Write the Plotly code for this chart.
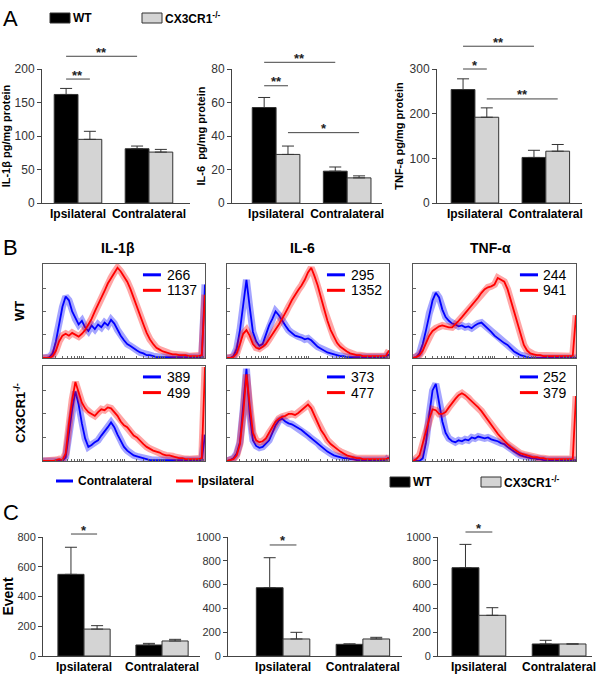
import plotly.graph_objects as go

FONT = 'Arial, "Liberation Sans", sans-serif'
WT_COLOR = '#000000'
KO_COLOR = '#d4d4d4'
EDGE = '#333333'
BLUE = '#0000ff'
RED = '#ff0000'
W, H = 600, 675

SIDES = ['Ipsilateral', 'Contralateral']
GROUPS = ['WT', 'CX3CR1<sup>-/-</sup>']

# A: cytokine content (pg/mg protein), order = [Ipsilateral, Contralateral]
il1b_wt, il1b_wt_sem = [162, 81], [9, 4]
il1b_ko, il1b_ko_sem = [95, 76], [12, 4]
il6_wt, il6_wt_sem = [57, 19], [6, 2.5]
il6_ko, il6_ko_sem = [29, 15], [5, 1.2]
tnf_wt, tnf_wt_sem = [254, 102], [24, 16]
tnf_ko, tnf_ko_sem = [192, 116], [21, 15]

# C: positive events
ev_il1b_wt, ev_il1b_wt_sem = [549, 74], [182, 11]
ev_il1b_ko, ev_il1b_ko_sem = [181, 101], [23, 11]
ev_il6_wt, ev_il6_wt_sem = [574, 98], [252, 4]
ev_il6_ko, ev_il6_ko_sem = [143, 143], [56, 14]
ev_tnf_wt, ev_tnf_wt_sem = [742, 101], [196, 31]
ev_tnf_ko, ev_tnf_ko_sem = [342, 101], [64, 0]

# significance: (bar a, bar b, level, label); bars 0=WT ipsi 1=KO ipsi 2=WT contra 3=KO contra
sig_il1b = [(0, 1, 185, '**'), (0, 2, 219, '**')]
sig_il6 = [(0, 1, 70, '**'), (0, 2, 84, '**'), (1, 3, 42, '*')]
sig_tnf = [(0, 1, 300, '*'), (0, 2, 351, '**'), (1, 3, 233, '**')]
sig_ev_il1b = [(0, 1, 820, '*')]
sig_ev_il6 = [(0, 1, 933, '*')]
sig_ev_tnf = [(0, 1, 1042, '*')]

# B: flow histograms (% of max), channel 0-1000
chan = [0, 20, 40, 60, 80, 100, 120, 140, 160, 180, 200, 220, 240, 260, 280, 300, 320, 340,
        360, 380, 400, 420, 440, 460, 480, 500, 520, 540, 560, 580, 600, 620, 640, 660, 680,
        700, 720, 740, 760, 780, 800, 820, 840, 860, 880, 900, 920, 940, 960, 980, 1000]
h_il1b_wt_contra = [0, 0, 1, 5, 18, 38, 55, 66, 62, 50, 42, 36, 40, 33, 29, 35, 31, 36, 33, 38,
                    35, 41, 37, 30, 24, 19, 15, 13, 10, 8, 6, 5, 3, 3, 2, 1, 1, 1, 1, 1,
                    1, 1, 1, 1, 1, 1, 1, 1, 1, 1, 79]
h_il1b_wt_ipsi = [0, 0, 0, 2, 8, 18, 24, 26, 24, 27, 25, 23, 26, 30, 36, 42, 50, 57, 65, 72,
                  80, 86, 92, 97, 93, 88, 82, 74, 64, 55, 45, 36, 27, 20, 15, 11, 9, 7, 6, 5,
                  4, 4, 3, 3, 3, 2, 2, 2, 2, 3, 68]
h_il6_wt_contra = [0, 0, 2, 10, 30, 60, 84, 55, 28, 18, 13, 15, 25, 35, 42, 50, 46, 40, 35, 30,
                   27, 24, 23, 22, 20, 21, 19, 15, 12, 10, 8, 6, 5, 4, 3, 2, 2, 1, 1, 1,
                   1, 1, 1, 1, 1, 1, 1, 1, 1, 1, 4]
h_il6_wt_ipsi = [0, 0, 1, 5, 15, 26, 30, 24, 15, 11, 10, 12, 15, 20, 25, 30, 36, 42, 48, 55,
                 62, 68, 73, 78, 84, 92, 97, 88, 78, 65, 52, 40, 30, 22, 16, 12, 9, 7, 5, 4,
                 3, 3, 2, 2, 2, 2, 2, 2, 2, 2, 8]
h_tnf_wt_contra = [0, 1, 5, 15, 30, 48, 62, 70, 65, 52, 44, 40, 37, 36, 34, 35, 33, 34, 32, 35,
                   37, 38, 35, 32, 28, 24, 21, 18, 16, 14, 10, 7, 5, 3, 2, 1, 0, 0, 0, 0,
                   0, 0, 0, 0, 0, 0, 0, 0, 0, 0, 0]
h_tnf_wt_ipsi = [0, 1, 3, 8, 16, 24, 29, 32, 34, 35, 34, 33, 33, 36, 40, 44, 48, 53, 57, 61,
                 65, 70, 74, 76, 77, 79, 86, 84, 82, 74, 62, 50, 38, 25, 14, 8, 5, 4, 3, 3,
                 2, 2, 2, 2, 2, 2, 2, 2, 2, 2, 46]
h_il1b_ko_contra = [0, 0, 0, 0, 0, 0, 0, 4, 30, 55, 74, 60, 40, 24, 15, 17, 20, 22, 27, 31,
                    36, 41, 36, 28, 21, 15, 11, 8, 6, 5, 4, 3, 2, 1, 1, 1, 1, 1, 1, 1,
                    1, 1, 1, 1, 1, 1, 1, 1, 1, 1, 28]
h_il1b_ko_ipsi = [0, 0, 0, 0, 1, 2, 1, 8, 40, 65, 84, 72, 62, 56, 52, 50, 48, 52, 55, 54,
                  57, 56, 52, 48, 42, 38, 36, 31, 27, 25, 21, 18, 15, 13, 11, 10, 9, 7, 6, 6,
                  5, 4, 3, 3, 2, 2, 2, 2, 2, 3, 100]
h_il6_ko_contra = [0, 1, 3, 8, 20, 55, 98, 50, 22, 16, 14, 15, 18, 22, 30, 38, 43, 45, 42, 40,
                   39, 37, 35, 33, 30, 27, 24, 22, 19, 15, 12, 10, 8, 6, 5, 4, 3, 3, 2, 2,
                   1, 1, 1, 1, 1, 1, 1, 1, 1, 1, 4]
h_il6_ko_ipsi = [0, 1, 2, 6, 18, 50, 92, 60, 30, 22, 20, 21, 24, 30, 36, 42, 45, 47, 48, 50,
                 50, 49, 51, 54, 57, 60, 56, 48, 40, 33, 28, 22, 18, 15, 12, 10, 8, 6, 5, 4,
                 3, 3, 2, 2, 2, 2, 2, 2, 2, 2, 3]
h_tnf_ko_contra = [0, 0, 0, 3, 20, 50, 75, 82, 62, 42, 30, 24, 21, 20, 22, 21, 23, 22, 25, 24,
                   26, 25, 24, 25, 23, 22, 21, 19, 18, 15, 12, 10, 8, 6, 5, 4, 3, 3, 2, 2,
                   1, 1, 1, 1, 1, 1, 1, 1, 1, 1, 1]
h_tnf_ko_ipsi = [0, 2, 6, 18, 32, 45, 55, 54, 50, 50, 52, 57, 62, 66, 70, 72, 70, 67, 63, 60,
                 57, 53, 48, 43, 38, 33, 29, 25, 21, 18, 15, 12, 10, 8, 7, 6, 5, 4, 4, 3,
                 3, 2, 2, 2, 2, 2, 2, 2, 2, 2, 69]
mfi_contra = [266, 295, 244, 389, 373, 252]
mfi_ipsi = [1137, 1352, 941, 499, 477, 379]
hist_titles = ['IL-1β', 'IL-6', 'TNF-α']

BARGAP = 0.33
OFF = (1 - BARGAP) / 4
BAR_X = [-OFF, OFF, 1 - OFF, 1 + OFF]


def dx(a, b):
    return [a / W, b / W]


def dy(top, bottom):
    return [1 - bottom / H, 1 - top / H]


def ids(i):
    return ('x', 'y', 'xaxis', 'yaxis') if i == 1 else (f'x{i}', f'y{i}', f'xaxis{i}', f'yaxis{i}')


def to_paper(dom, rng, v):
    return dom[0] + (v - rng[0]) / (rng[1] - rng[0]) * (dom[1] - dom[0])


def note(x, y, text, size, xanchor='center', **kw):
    annos.append(dict(xref='paper', yref='paper', x=x / W, y=1 - y / H, text=text,
                      xanchor=xanchor, yanchor='middle', showarrow=False,
                      font=dict(size=size, color='black'), **kw))


fig = go.Figure()
shapes, annos = [], []


def bar_panel(i, xdom, ydom, xr, yr, dtick, wt, wt_sem, ko, ko_sem, ytitle, sig,
              tick_size=12, title_size=11, standoff=3):
    xa, ya, xk, yk = ids(i)
    for vals, sem, color in ((wt, wt_sem, WT_COLOR), (ko, ko_sem, KO_COLOR)):
        fig.add_trace(go.Bar(x=[0, 1], y=vals, xaxis=xa, yaxis=ya,
                             marker=dict(color=color, line=dict(color=EDGE, width=1)),
                             error_y=dict(type='data', symmetric=False, array=sem,
                                          arrayminus=[0, 0], color=EDGE, thickness=1, width=6)))
    yaxis = dict(domain=ydom, range=yr, dtick=dtick, anchor=xa, ticks='outside', ticklen=4,
                 tickcolor='#444', showline=True, linecolor='#444', linewidth=1,
                 showgrid=False, zeroline=False, automargin=False,
                 tickfont=dict(size=tick_size, color='#333'))
    if ytitle:
        yaxis['title'] = dict(text=f'<b>{ytitle}</b>', font=dict(size=title_size, color='black'),
                              standoff=standoff)
    fig.update_layout(**{
        xk: dict(domain=xdom, range=xr, anchor=ya, tickvals=[0, 1],
                 ticktext=[f'<b>{s}</b>' for s in SIDES], ticks='', automargin=False,
                 showline=True, linecolor='#444', linewidth=1, showgrid=False, zeroline=False,
                 tickfont=dict(size=12, color='black')),
        yk: yaxis,
    })
    for a, b, lvl, lab in sig:
        x0 = to_paper(xdom, xr, BAR_X[a])
        x1 = to_paper(xdom, xr, BAR_X[b])
        yl = to_paper(ydom, yr, lvl)
        shapes.append(dict(type='line', xref='paper', yref='paper', x0=x0, x1=x1, y0=yl, y1=yl,
                           line=dict(color='#444', width=1)))
        annos.append(dict(xref='paper', yref='paper', x=(x0 + x1) / 2, y=yl + 4 / H,
                          xanchor='center', yanchor='middle', text=f'<b>{lab}</b>',
                          showarrow=False, font=dict(size=13, color='#222')))


# panel A
bar_panel(1, dx(42, 190), dy(69, 203), [-0.507, 1.578], [0, 200], 50,
          il1b_wt, il1b_wt_sem, il1b_ko, il1b_ko_sem, 'IL-1β pg/mg protein', sig_il1b)
bar_panel(2, dx(232, 382), dy(69, 203), [-0.62, 1.49], [0, 80], 20,
          il6_wt, il6_wt_sem, il6_ko, il6_ko_sem, 'IL-6  pg/mg protein', sig_il6)
bar_panel(3, dx(437, 582), dy(69, 203), [-0.535, 1.51], [0, 300], 100,
          tnf_wt, tnf_wt_sem, tnf_ko, tnf_ko_sem, 'TNF-a pg/mg protein', sig_tnf)

# panel C
bar_panel(10, dx(43, 200), dy(537, 656), [-0.526, 1.487], [0, 800], 200,
          ev_il1b_wt, ev_il1b_wt_sem, ev_il1b_ko, ev_il1b_ko_sem, 'Event', sig_ev_il1b,
          tick_size=11, title_size=14, standoff=5)
bar_panel(11, dx(228, 402), dy(537, 656), [-0.69, 1.49], [0, 1000], 200,
          ev_il6_wt, ev_il6_wt_sem, ev_il6_ko, ev_il6_ko_sem, '', sig_ev_il6, tick_size=11)
bar_panel(12, dx(438, 592), dy(537, 656), [-0.51, 1.41], [0, 1000], 200,
          ev_tnf_wt, ev_tnf_wt_sem, ev_tnf_ko, ev_tnf_ko_sem, '', sig_ev_tnf, tick_size=11)

# panel B histograms
hist = [(h_il1b_wt_contra, h_il1b_wt_ipsi), (h_il6_wt_contra, h_il6_wt_ipsi),
        (h_tnf_wt_contra, h_tnf_wt_ipsi), (h_il1b_ko_contra, h_il1b_ko_ipsi),
        (h_il6_ko_contra, h_il6_ko_ipsi), (h_tnf_ko_contra, h_tnf_ko_ipsi)]
cols = [dx(43, 205), dx(227, 389), dx(413, 576)]
rows = [dy(264, 358), dy(366, 461)]
leg_x = [(0.617, 0.728, 0.75), (0.617, 0.728, 0.75), (0.656, 0.767, 0.785)]
minor = [0, 75, 119, 150, 175, 194, 211, 226, 239]
xticks = [d * 250 + m for d in range(4) for m in minor] + [1000]

for k, (blue, red) in enumerate(hist):
    i = 4 + k
    xa, ya, xk, yk = ids(i)
    r, c = divmod(k, 3)
    for vals, color in ((blue, BLUE), (red, RED)):
        fig.add_trace(go.Scatter(x=chan, y=vals, xaxis=xa, yaxis=ya, mode='lines',
                                 line=dict(color=color, width=7), opacity=0.35))
        fig.add_trace(go.Scatter(x=chan, y=vals, xaxis=xa, yaxis=ya, mode='lines',
                                 line=dict(color=color, width=1.8)))
    fig.update_layout(**{
        xk: dict(domain=cols[c], range=[0, 1000], anchor=ya, showline=True, mirror=True,
                 linecolor='#555', linewidth=1, ticks='inside', ticklen=2, tickcolor='#666',
                 tickvals=xticks, showticklabels=False, showgrid=False, zeroline=False,
                 automargin=False),
        yk: dict(domain=rows[r], range=[0, 101], anchor=xa, showline=True, mirror=True,
                 linecolor='#555', linewidth=1, ticks='inside', ticklen=3, tickcolor='#666',
                 dtick=25, showticklabels=False, showgrid=False, zeroline=False,
                 automargin=False),
    })
    lx0, lx1, tx = leg_x[c]
    for yy, color, num in ((0.885, BLUE, mfi_contra[k]), (0.72, RED, mfi_ipsi[k])):
        shapes.append(dict(type='line', xref=f'{xa} domain', yref=f'{ya} domain',
                           x0=lx0, x1=lx1, y0=yy, y1=yy, line=dict(color=color, width=3)))
        annos.append(dict(xref=f'{xa} domain', yref=f'{ya} domain', x=tx, y=yy,
                          xanchor='left', yanchor='middle', text=str(num), showarrow=False,
                          font=dict(size=14, color='black')))

for c, t in enumerate(hist_titles):
    note([118, 302, 490][c], 248, f'<b>{t}</b>', 14)
note(20, 311, '<b>WT</b>', 13, textangle=-90)
note(20, 413, f'<b>{GROUPS[1]}</b>', 13, textangle=-90)

# panel letters
for letter, y in (('A', 19), ('B', 247), ('C', 512)):
    note(1, y, letter, 22, xanchor='left')


# genotype legends (top of A, and right of B/C)
def geno_legend(x_wt, x_ko, yc):
    for x0, color, label in ((x_wt, WT_COLOR, GROUPS[0]), (x_ko, KO_COLOR, GROUPS[1])):
        shapes.append(dict(type='rect', xref='paper', yref='paper', x0=x0 / W, x1=(x0 + 20) / W,
                           y0=1 - (yc - 5) / H, y1=1 - (yc + 5) / H, fillcolor=color,
                           line=dict(color=EDGE, width=1)))
        note(x0 + 21, yc, f'<b>{label}</b>', 12, xanchor='left')


geno_legend(50, 142, 18)
geno_legend(390, 481, 482)

# side legend below histograms
for x0, color, label in ((56, BLUE, 'Contralateral'), (176, RED, 'Ipsilateral')):
    shapes.append(dict(type='line', xref='paper', yref='paper', x0=x0 / W, x1=(x0 + 17) / W,
                       y0=1 - 481 / H, y1=1 - 481 / H, line=dict(color=color, width=3)))
    note(x0 + 20, 481, f'<b>{label}</b>', 12, xanchor='left')

fig.update_layout(width=W, height=H, autosize=False, margin=dict(l=0, r=0, t=0, b=0),
                  barmode='group', bargap=BARGAP, bargroupgap=0, showlegend=False,
                  plot_bgcolor='white', paper_bgcolor='white',
                  font=dict(family=FONT, color='black'),
                  shapes=shapes, annotations=annos)

fig.write_html('out.html', config={'displayModeBar': False},
               post_script="document.body.style.margin = '0';")
